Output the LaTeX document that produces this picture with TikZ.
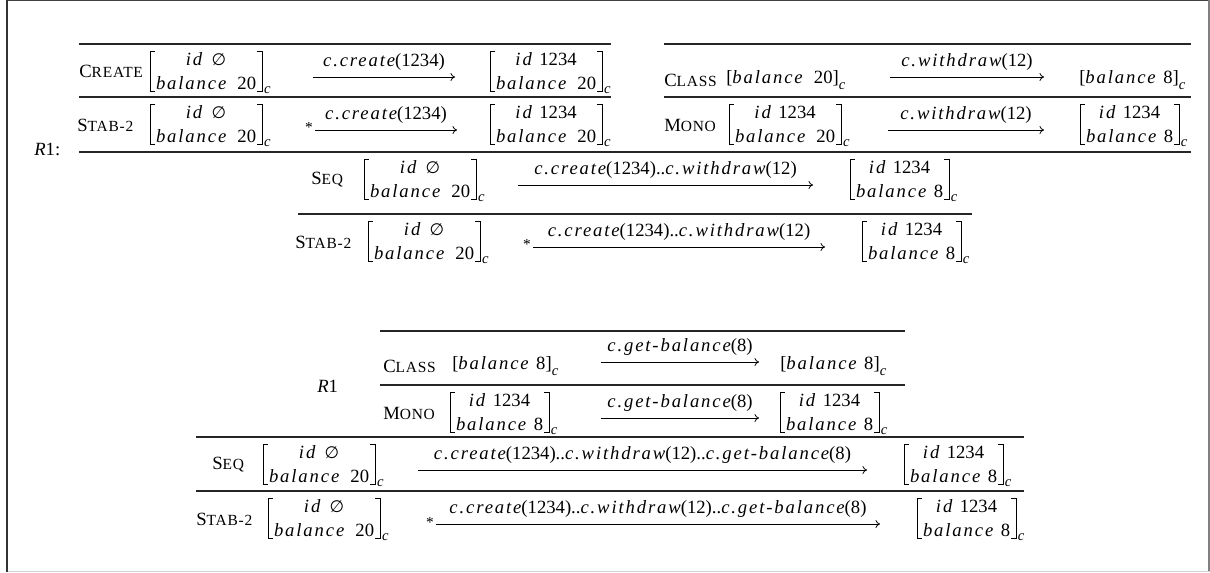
\documentclass[tikz,border=0pt]{standalone}
\usepackage{fontspec}
\setmainfont{Liberation Serif}
\newfontfamily\mifam[LetterSpace=10]{Liberation Serif}
\newfontfamily\djv{DejaVu Sans}
\usetikzlibrary{arrows.meta}

% math-italic identifiers, small caps, empty set
\newcommand\mi[1]{{\mifam\itshape #1}}
\newcommand\smc[2]{#1{\fontsize{11.6pt}{12pt}\selectfont\addfontfeature{LetterSpace=5}#2}}
\newcommand\es{{\djv\fontsize{12.5pt}{13pt}\selectfont ∅}}

\tikzset{
  ruleline/.style={line width=1.1pt, draw=black!85},
  arr/.style={-{Computer Modern Rightarrow[length=3.4pt,width=6pt]}, line width=0.6pt},
  lab/.style={above=3.5pt, inner sep=1pt},
  vst/.style={anchor=west, align=center, inner xsep=4.3pt, inner ysep=0.8pt},
  hst/.style={anchor=west, inner sep=0pt},
  brk/.style={line width=0.6pt},
  subc/.style={anchor=base west, inner sep=0pt, font=\fontsize{11pt}{11pt}\selectfont},
  rname/.style={anchor=west, inner sep=0pt},
  starmark/.style={inner sep=0pt, font=\fontsize{11.5pt}{11.5pt}\selectfont},
}

% bracketed two-row state: name, x of left bracket, y of centre, upper row, lower row
\newcommand\vstate[5]{%
  \node[vst] (#1) at (#2,#3) {\rule{0pt}{9.5pt}#4\\#5};
  \draw[brk] ([xshift=3.6pt]#1.north west) -- (#1.north west) -- (#1.south west) -- ([xshift=3.6pt]#1.south west);
  \draw[brk] ([xshift=-3.6pt]#1.north east) -- (#1.north east) -- (#1.south east) -- ([xshift=-3.6pt]#1.south east);
  \node[subc] (#1-c) at ([xshift=1.2pt,yshift=-1.8pt]#1.south east) {\mi{c}};
}
% one-line state: name, x, y, content
\newcommand\hstate[4]{%
  \node[hst] (#1) at (#2,#3) {[#4]\raisebox{-4.5pt}{\fontsize{11pt}{11pt}\selectfont\mi{c}}};
}
% labelled transition arrow: name, y, x from, x to, label
\newcommand\trans[5]{%
  \coordinate (#1-s) at (#3,#2);
  \coordinate (#1-e) at (#4,#2);
  \draw[arr] (#1-s) -- node[lab] (#1-l) {#5} (#1-e);
}
% inference line: name, y, x from, x to
\newcommand\irule[4]{%
  \coordinate (#1-a) at (#3,#2);
  \coordinate (#1-b) at (#4,#2);
  \draw[ruleline] (#1-a) -- (#1-b);
}

\newcommand\lidnull{\mi{id}\hspace{0.5em}\es}
\newcommand\lidnum{\mi{id}\hspace{0.4em}1234}
\newcommand\lbaltw{\mi{balance}\hspace{0.6em}20}
\newcommand\lbalei{\mi{balance}\hspace{0.4em}8}

\begin{document}
\begin{tikzpicture}[x=0.75pt, y=-0.75pt, font=\fontsize{14pt}{18pt}\selectfont]
\useasboundingbox (0,0) rectangle (1210,572);

% frame
\draw[line width=1pt, black!75] (7,0.7) -- (1210,0.7);
\draw[line width=1.5pt, gray] (1208.7,0) -- (1208.7,572);
\draw[line width=1pt, gray!35] (7,571.4) -- (1210,571.4);
\draw[line width=2pt, black!80] (7,0) -- (7,572);

% ---------------- derivation R1 ----------------
\irule{tl1}{44}{79}{611}
\irule{tl2}{97}{79}{611}
\irule{tr1}{44}{664}{1191}
\irule{tr2}{97}{664}{1191}
\irule{tlong}{152}{79}{1191}
\irule{tc}{214}{298}{972}

\node[rname] (create) at (79,71) {\smc{C}{REATE}};
\vstate{s1}{150}{71}{\lidnull}{\lbaltw}
\trans{t1}{77}{313}{455}{\mi{c.create}(1234)}
\vstate{s2}{490}{71}{\lidnum}{\lbaltw}

\node[rname] (class1) at (664,80) {\smc{C}{LASS}};
\hstate{s3}{726}{80}{\lbaltw}
\trans{t2}{77}{890}{1044}{\mi{c.withdraw}(12)}
\hstate{s4}{1079}{80}{\lbalei}

\node[rname] (stab1) at (77,125) {\smc{S}{TAB-2}};
\vstate{s5}{150}{124}{\lidnull}{\lbaltw}
\node[starmark] (st1) at (309,127) {*};
\trans{t3}{130}{315}{457}{\mi{c.create}(1234)}
\vstate{s6}{490}{124}{\lidnum}{\lbaltw}

\node[rname] (mono1) at (664,125) {\smc{M}{ONO}};
\vstate{s7}{729}{124}{\lidnum}{\lbaltw}
\trans{t4}{130}{888}{1044}{\mi{c.withdraw}(12)}
\vstate{s8}{1080}{124}{\lidnum}{\lbalei}

\node[rname] (r1) at (34,149) {\mi{R}1:};

\node[rname] (seq1) at (311,180) {\smc{S}{EQ}};
\vstate{s9}{364}{179}{\lidnull}{\lbaltw}
\trans{t5}{185}{518}{813}{\mi{c.create}(1234)..\mi{c.withdraw}(12)}
\vstate{s10}{850}{179}{\lidnum}{\lbalei}

\node[rname] (stab2) at (295,242) {\smc{S}{TAB-2}};
\vstate{s11}{368}{241}{\lidnull}{\lbaltw}
\node[starmark] (st2) at (527,244) {*};
\trans{t6}{247}{533}{825}{\mi{c.create}(1234)..\mi{c.withdraw}(12)}
\vstate{s12}{862}{241}{\lidnum}{\lbalei}

% ---------------- derivation using R1 ----------------
\irule{bl1}{331}{380}{905}
\irule{bl2}{385}{380}{905}
\irule{blong}{437}{196}{1024}
\irule{bc}{491}{196}{1024}

\node[rname] (r1b) at (317,386) {\mi{R}1};

\node[rname] (class2) at (383,366) {\smc{C}{LASS}};
\hstate{s13}{452}{366}{\lbalei}
\trans{t7}{362}{601}{759}{\mi{c.get-balance}(8)}
\hstate{s14}{780}{366}{\lbalei}

\node[rname] (mono2) at (383,413) {\smc{M}{ONO}};
\vstate{s15}{450}{412}{\lidnum}{\lbalei}
\trans{t8}{418}{601}{759}{\mi{c.get-balance}(8)}
\vstate{s16}{780}{412}{\lidnum}{\lbalei}

\node[rname] (seq2) at (212,465) {\smc{S}{EQ}};
\vstate{s17}{263}{464}{\lidnull}{\lbaltw}
\trans{t9}{470}{418}{867}{\mi{c.create}(1234)..\mi{c.withdraw}(12)..\mi{c.get-balance}(8)}
\vstate{s18}{904}{464}{\lidnum}{\lbalei}

\node[rname] (stab3) at (196,519) {\smc{S}{TAB-2}};
\vstate{s19}{268}{518}{\lidnull}{\lbaltw}
\node[starmark] (st3) at (430,522) {*};
\trans{t10}{524}{436}{880}{\mi{c.create}(1234)..\mi{c.withdraw}(12)..\mi{c.get-balance}(8)}
\vstate{s20}{917}{518}{\lidnum}{\lbalei}
\end{tikzpicture}
\end{document}
